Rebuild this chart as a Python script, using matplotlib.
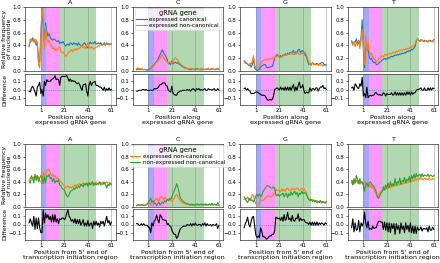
import numpy as np
import matplotlib
matplotlib.use("Agg")
import matplotlib.pyplot as plt

positions = np.arange(-9, 62)
nucleotides = ["A", "C", "G", "T"]
x_ticks = [1, 21, 41, 61]

# ---- top row: expressed canonical vs expressed non-canonical ----
top_A_canon = [.38,.47,.48,.52,.46,.47,.40,.45,.15,.14,.55,.98,.72,.45,.75,.62,.55,.58,.52,.50,
               .48,.50,.49,.47,.46,.48,.43,.45,.44,.46,.42,.39,.41,.42,.40,.44,.43,.41,.44,.42,
               .43,.40,.44,.41,.40,.39,.42,.44,.42,.38,.36,.43,.45,.43,.44,.43,.46,.42,.43,.44,
               .42,.44,.41,.42,.44,.40,.44,.41,.43,.42,.42]
top_A_noncanon = [.40,.50,.46,.48,.45,.50,.48,.42,.10,.05,.60,.98,.80,.35,.70,.50,.45,.48,.42,.38,
                  .35,.36,.32,.35,.33,.36,.38,.30,.28,.30,.26,.23,.24,.28,.30,.31,.33,.30,.34,.32,
                  .35,.33,.36,.35,.38,.40,.36,.38,.35,.40,.44,.37,.35,.38,.36,.34,.36,.37,.38,.40,
                  .39,.41,.40,.43,.41,.42,.43,.42,.41,.43,.42]
top_C_canon = [.02,.03,.02,.03,.02,.03,.02,.02,.02,.01,.02,.03,.04,.06,.09,.09,.13,.15,.18,.22,
               .26,.30,.33,.28,.26,.22,.18,.11,.12,.10,.16,.11,.13,.14,.12,.13,.11,.10,.08,.07,
               .06,.05,.04,.04,.03,.03,.02,.03,.03,.03,.02,.04,.03,.03,.02,.04,.02,.03,.03,.02,
               .03,.04,.02,.03,.03,.03,.03,.02,.03,.04,.02]
top_C_noncanon = [.04,.05,.03,.04,.03,.03,.02,.03,.02,.02,.03,.04,.05,.07,.10,.08,.12,.14,.16,.18,
                  .20,.24,.25,.20,.18,.17,.14,.12,.14,.13,.12,.16,.19,.21,.19,.17,.14,.12,.10,.08,
                  .07,.06,.05,.04,.04,.03,.04,.03,.02,.03,.04,.03,.03,.02,.03,.04,.03,.03,.02,.03,
                  .04,.03,.02,.03,.04,.03,.02,.03,.04,.03,.03]
top_G_canon = [.16,.14,.12,.11,.08,.10,.06,.10,.19,.04,.02,.01,.02,.03,.06,.08,.09,.10,.10,.06,
               .05,.06,.06,.07,.07,.13,.20,.23,.26,.24,.21,.24,.22,.25,.24,.27,.25,.28,.26,.29,
               .27,.30,.32,.26,.30,.28,.33,.34,.29,.31,.32,.27,.25,.22,.16,.10,.12,.09,.13,.11,
               .10,.11,.12,.09,.11,.12,.13,.13,.10,.10,.09]
top_G_noncanon = [.15,.12,.13,.10,.09,.12,.11,.15,.24,.08,.05,.04,.06,.08,.12,.15,.16,.17,.18,.17,
                  .18,.19,.18,.20,.19,.21,.20,.22,.24,.23,.22,.21,.22,.23,.25,.24,.26,.25,.27,.26,
                  .28,.27,.26,.28,.27,.29,.28,.25,.27,.28,.26,.29,.30,.25,.20,.14,.10,.11,.12,.10,
                  .11,.09,.10,.11,.10,.09,.10,.08,.09,.08,.09]
top_T_canon = [.47,.43,.45,.45,.50,.42,.48,.42,.52,.80,.32,.05,.45,.33,.35,.22,.18,.20,.15,.13,
               .14,.10,.10,.12,.14,.15,.17,.18,.20,.18,.19,.21,.20,.22,.23,.22,.24,.25,.24,.26,
               .25,.27,.26,.28,.27,.29,.28,.31,.30,.32,.31,.34,.33,.36,.38,.47,.50,.48,.47,.49,
               .48,.46,.48,.47,.46,.47,.47,.48,.46,.47,.49]
top_T_noncanon = [.45,.40,.46,.38,.45,.40,.47,.35,.48,.65,.40,.10,.55,.30,.45,.30,.25,.28,.22,.20,
                  .18,.14,.16,.19,.20,.22,.24,.22,.25,.26,.24,.27,.26,.28,.27,.29,.30,.28,.31,.30,
                  .32,.31,.33,.32,.34,.33,.35,.34,.36,.35,.38,.37,.39,.40,.42,.48,.50,.48,.46,.47,
                  .49,.47,.46,.48,.47,.45,.48,.46,.47,.45,.48]

# ---- bottom row: expressed non-canonical vs non-expressed non-canonical ----
bot_A_expr = [.42,.45,.50,.44,.48,.46,.50,.45,.48,.42,.40,.37,.55,.50,.52,.58,.60,.58,.55,.50,
              .52,.48,.50,.45,.47,.44,.42,.40,.38,.36,.33,.30,.32,.34,.30,.32,.30,.33,.32,.35,
              .33,.36,.34,.37,.35,.36,.38,.35,.37,.36,.38,.37,.36,.39,.35,.38,.37,.39,.36,.38,
              .37,.39,.38,.40,.37,.39,.40,.38,.39,.37,.38]
bot_A_nonexpr = [.40,.38,.48,.46,.38,.52,.42,.50,.40,.46,.50,.47,.37,.48,.38,.50,.48,.52,.45,.47,
                 .40,.45,.38,.42,.40,.43,.35,.34,.30,.28,.27,.22,.18,.16,.20,.24,.26,.27,.30,.28,
                 .32,.30,.33,.31,.36,.34,.32,.37,.35,.38,.33,.39,.35,.37,.40,.34,.38,.35,.37,.36,
                 .40,.35,.37,.36,.39,.35,.30,.36,.34,.38,.35]
bot_C_expr = [.03,.04,.03,.02,.04,.03,.03,.02,.03,.04,.05,.06,.04,.10,.08,.09,.12,.14,.11,.10,
              .15,.16,.14,.12,.15,.13,.12,.11,.12,.10,.09,.12,.14,.18,.20,.17,.14,.10,.08,.07,
              .06,.05,.04,.05,.04,.03,.04,.03,.04,.03,.05,.03,.04,.03,.04,.03,.04,.03,.05,.03,
              .04,.03,.04,.03,.04,.03,.04,.03,.04,.02,.03]
bot_C_nonexpr = [.02,.03,.04,.03,.03,.04,.02,.03,.04,.05,.08,.10,.14,.08,.10,.05,.06,.02,.05,.08,
                 .03,.06,.08,.06,.10,.08,.12,.10,.14,.12,.16,.22,.26,.30,.37,.32,.24,.16,.12,.10,
                 .08,.07,.06,.05,.05,.04,.03,.05,.03,.04,.03,.04,.05,.03,.04,.05,.03,.04,.03,.05,
                 .03,.04,.05,.03,.06,.03,.05,.04,.03,.07,.04]
bot_G_expr = [.12,.14,.13,.16,.12,.11,.14,.20,.18,.10,.05,.04,.03,.05,.12,.10,.10,.12,.14,.15,
              .17,.18,.17,.16,.18,.20,.22,.28,.26,.27,.25,.24,.29,.26,.28,.25,.29,.30,.27,.26,
              .28,.30,.27,.29,.28,.30,.29,.26,.28,.30,.27,.29,.25,.22,.17,.12,.13,.11,.12,.10,
              .11,.09,.10,.08,.09,.10,.08,.09,.07,.08,.09]
bot_G_nonexpr = [.16,.13,.09,.07,.12,.14,.10,.11,.08,.12,.18,.20,.17,.21,.16,.18,.25,.27,.30,.33,
                 .34,.33,.31,.30,.30,.32,.30,.19,.18,.20,.17,.19,.20,.22,.16,.20,.22,.15,.21,.18,
                 .24,.19,.22,.25,.20,.23,.16,.22,.20,.25,.21,.23,.22,.20,.15,.12,.10,.12,.09,.11,
                 .08,.10,.07,.09,.07,.10,.06,.08,.08,.06,.08]
bot_T_expr = [.38,.42,.36,.40,.43,.38,.42,.36,.40,.38,.36,.40,.38,.34,.36,.32,.35,.30,.32,.28,
              .24,.20,.16,.18,.22,.25,.27,.26,.30,.28,.32,.29,.33,.30,.34,.32,.35,.33,.36,.34,
              .37,.35,.38,.36,.38,.37,.40,.38,.41,.39,.42,.40,.43,.41,.44,.42,.45,.43,.46,.44,
              .45,.43,.46,.44,.45,.43,.46,.44,.43,.45,.44]
bot_T_nonexpr = [.42,.35,.45,.38,.50,.44,.37,.45,.38,.40,.34,.25,.36,.38,.32,.38,.40,.36,.34,.33,
                 .28,.24,.15,.14,.18,.22,.24,.32,.27,.35,.30,.38,.31,.40,.33,.37,.34,.45,.35,.40,
                 .38,.46,.36,.42,.40,.47,.38,.44,.42,.48,.40,.50,.45,.52,.46,.53,.48,.50,.52,.47,
                 .53,.48,.51,.50,.49,.52,.48,.51,.50,.48,.50]

top_first = [top_A_canon, top_C_canon, top_G_canon, top_T_canon]
top_second = [top_A_noncanon, top_C_noncanon, top_G_noncanon, top_T_noncanon]
bot_first = [bot_A_expr, bot_C_expr, bot_G_expr, bot_T_expr]
bot_second = [bot_A_nonexpr, bot_C_nonexpr, bot_G_nonexpr, bot_T_nonexpr]

top_labels = ["expressed canonical", "expressed non-canonical"]
bot_labels = ["expressed non-canonical", "non-expressed non-canonical"]
top_colors = ["tab:blue", "tab:orange"]
bot_colors = ["tab:orange", "tab:green"]
top_xlabel = "Position along\nexpressed gRNA gene"
bot_xlabel = "Position from 5' end of\ntranscription initiation region"

plt.rcParams['font.family'] = ['DejaVu Sans']
W, H = 440, 263
fig = plt.figure(figsize=(4.4, 2.63), dpi=100)

def fx(px):
    return px / W

def fy_box(top_px, bot_px):
    return 1 - bot_px / H, (bot_px - top_px) / H

col_lefts = [25, 132.5, 240, 347.5]
col_w = 90.5
rows = [
    dict(main=(7, 71), diff=(74, 105), first=top_first, second=top_second,
         labels=top_labels, colors=top_colors, xlabel=top_xlabel),
    dict(main=(144, 207), diff=(209, 240), first=bot_first, second=bot_second,
         labels=bot_labels, colors=bot_colors, xlabel=bot_xlabel),
]

def shade(ax):
    ax.axvspan(1, 5.5, color="blue", alpha=0.35, lw=0, zorder=0)
    ax.axvspan(5.5, 17, color="magenta", alpha=0.4, lw=0, zorder=0)
    ax.axvspan(17, 48, color="green", alpha=0.3, lw=0, zorder=0)
    for t in x_ticks:
        ax.axvline(t, color="0.5", lw=0.5, alpha=0.6, zorder=0.5)

fs_tick = 4
fs_label = 4.6
for r, row in enumerate(rows):
    for c in range(4):
        b, h = fy_box(*row["main"])
        ax = fig.add_axes([fx(col_lefts[c]), b, fx(col_w), h])
        b2, h2 = fy_box(*row["diff"])
        axd = fig.add_axes([fx(col_lefts[c]), b2, fx(col_w), h2], sharex=ax)
        s1 = np.array(row["first"][c])
        s2 = np.array(row["second"][c])
        shade(ax)
        shade(axd)
        ax.plot(positions, s1, color=row["colors"][0], lw=0.8, label=row["labels"][0])
        ax.plot(positions, s2, color=row["colors"][1], lw=0.8, label=row["labels"][1])
        axd.plot(positions, s1 - s2, color="black", lw=0.8)
        axd.axhline(0, color="tab:blue", lw=0.5, ls=":")
        ax.set_ylim(0, 1)
        axd.set_ylim(-0.19, 0.19)
        ax.set_xlim(-12.5, 64.5)
        ax.set_yticks([0, 0.2, 0.4, 0.6, 0.8, 1.0])
        ax.set_yticklabels(["0.0", "0.2", "0.4", "0.6", "0.8", "1.0"])
        axd.set_yticks([-0.1, 0.0, 0.1])
        axd.set_yticklabels(["\u22120.1", "0.0", "0.1"])
        axd.set_xticks(x_ticks)
        ax.tick_params(axis="x", which="both", bottom=False, labelbottom=False)
        for a in (ax, axd):
            a.tick_params(labelsize=fs_tick, length=1.5, width=0.4, pad=1)
            for sp in a.spines.values():
                sp.set_linewidth(0.5)
                sp.set_color("0.2")
        ax.set_title(nucleotides[c], fontsize=4.6, pad=2)
        axd.set_xlabel(row["xlabel"], fontsize=fs_label, labelpad=1, linespacing=1.0)
        if c == 0:
            ax.set_ylabel("Relative frequency\nof nucleotide", fontsize=4.4, labelpad=0.5, linespacing=1.0)
            axd.set_ylabel("Difference", fontsize=4.4, labelpad=0.5)
        if c == 1:
            leg = ax.legend(loc="upper center", title="gRNA gene", fontsize=4.1,
                            title_fontsize=4.9, frameon=True, borderpad=0.3,
                            handlelength=1.8, labelspacing=0.2, borderaxespad=0.2,
                            handletextpad=0.5)
            leg.get_frame().set_linewidth(0.4)

fig.savefig("out.png", dpi=100)
